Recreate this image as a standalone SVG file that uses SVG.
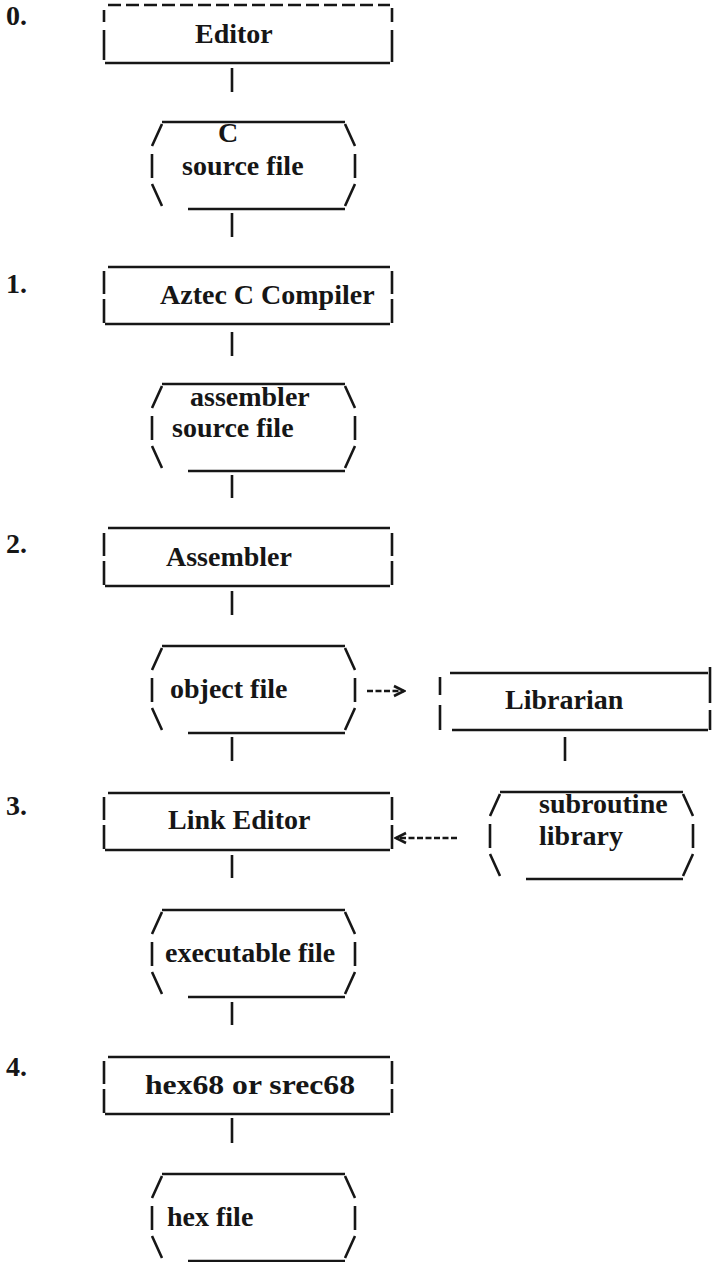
<svg xmlns="http://www.w3.org/2000/svg" xmlns:xlink="http://www.w3.org/1999/xlink" width="716" height="1262" viewBox="0 0 716 1262">
<defs>
<style>
.ln{stroke:#161616;stroke-width:2.6;fill:none;stroke-linecap:butt}
.dash{stroke-dasharray:13 5}
.arr{stroke-dasharray:6 2.5}
.t{font-family:"Liberation Serif","Times New Roman",serif;font-size:28px;font-weight:bold;fill:#161616}
</style>
<marker id="chev" markerUnits="userSpaceOnUse" viewBox="-12 -7 14 14" markerWidth="14" markerHeight="14" refX="0" refY="0" orient="auto">
<path d="M-10,-5 L0,0 L-10,5" fill="none" stroke="#161616" stroke-width="2.6"/>
</marker>
<g id="boxSides">
<path class="ln" d="M104,4 V27 M104,32 V56 M392,4 V27 M392,32 V56 M105,57 H390"/>
</g>
<g id="fileFrame">
<path class="ln" d="M162,0 H345 M162,2 L152,24 M152,32 V56 M152,62 L162,84 M188,87 H345 M345,2 L355,24 M355,32 V56 M355,62 L345,84"/>
</g>
</defs>
<rect width="716" height="1262" fill="#ffffff"/>

<g id="step-labels">
<text class="t" x="6" y="25">0.</text>
<text class="t" x="6" y="293">1.</text>
<text class="t" x="6" y="553">2.</text>
<text class="t" x="6" y="815">3.</text>
<text class="t" x="6" y="1076">4.</text>
</g>

<g id="connectors">
<path class="ln" d="M232,68 V92 M232,213 V237 M232,332 V356 M232,475 V498 M232,591 V615 M232,737 V761 M232,855 V878 M232,1002 V1025 M232,1118 V1143 M565,737 V761"/>
<path class="ln arr" d="M367,691 H404" marker-end="url(#chev)"/>
<path class="ln arr" d="M457,838 H396" marker-end="url(#chev)"/>
</g>

<g id="editor">
<path class="ln dash" d="M108,5 H390"/>
<path class="ln" d="M104,10 V22 M104,30 V60 M392,8 V22 M392,30 V62 M105,63 H390"/>
<text class="t" x="195" y="43">Editor</text>
</g>

<g id="c-source-file">
<use xlink:href="#fileFrame" y="122"/>
<text class="t" x="218" y="142">C</text>
<text class="t" x="182" y="175">source file</text>
</g>

<g id="aztec-c-compiler">
<path class="ln" d="M108,267 H390"/>
<use xlink:href="#boxSides" y="267"/>
<text class="t" x="160" y="304">Aztec C Compiler</text>
</g>

<g id="assembler-source-file">
<use xlink:href="#fileFrame" y="384"/>
<text class="t" x="190" y="406">assembler</text>
<text class="t" x="172" y="437">source file</text>
</g>

<g id="assembler">
<path class="ln" d="M108,528 H390"/>
<use xlink:href="#boxSides" y="529"/>
<text class="t" x="166" y="566">Assembler</text>
</g>

<g id="object-file">
<use xlink:href="#fileFrame" y="646"/>
<text class="t" x="170" y="698">object file</text>
</g>

<g id="librarian">
<path class="ln" d="M450,673 H708 M440,677 V695 M440,705 V730 M710,667 V703 M710,710 V730 M452,730 H708"/>
<text class="t" x="505" y="709">Librarian</text>
</g>

<g id="link-editor">
<path class="ln" d="M108,793 H390"/>
<use xlink:href="#boxSides" y="793"/>
<text class="t" x="168" y="829">Link Editor</text>
</g>

<g id="subroutine-library">
<use xlink:href="#fileFrame" x="338" y="792"/>
<text class="t" x="539" y="813">subroutine</text>
<text class="t" x="539" y="845">library</text>
</g>

<g id="executable-file">
<use xlink:href="#fileFrame" y="910"/>
<text class="t" x="165" y="962">executable file</text>
</g>

<g id="hex68-or-srec68">
<path class="ln" d="M108,1057 H390"/>
<use xlink:href="#boxSides" y="1057"/>
<text class="t" x="145" y="1094" textLength="210" lengthAdjust="spacingAndGlyphs">hex68 or srec68</text>
</g>

<g id="hex-file">
<use xlink:href="#fileFrame" y="1174"/>
<text class="t" x="167" y="1226">hex file</text>
</g>
</svg>
